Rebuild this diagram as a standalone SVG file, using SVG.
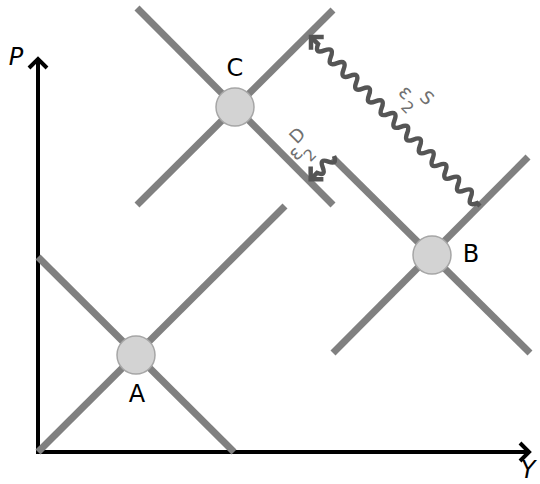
<svg xmlns="http://www.w3.org/2000/svg" width="540" height="484" viewBox="0 0 540 484">
<style>
.ln{stroke:#808080;stroke-width:7;fill:none}
.ax{stroke:#000;stroke-width:4;fill:none}
.wv{stroke:#555;stroke-width:4.5;fill:none;stroke-linejoin:miter}
.pt{fill:#d3d3d3;stroke:#a6a6a6;stroke-width:1.5}
.lb{font-family:"DejaVu Sans",sans-serif;font-size:24px;fill:#000;text-anchor:middle}
.ax-lb{font-family:"DejaVu Sans",sans-serif;font-style:italic;fill:#000;text-anchor:middle}
.el{font-family:"DejaVu Sans",sans-serif;fill:#707070;text-anchor:middle;dominant-baseline:central}
</style>
<rect width="540" height="484" fill="#fff"/>
<g id="axes">
<path class="ax" d="M38,452 L38,60 M29,68 L38,59 L47,68"/>
<path class="ax" d="M36,452 L528,452 M520,443 L529,452 L520,461"/>
<text class="ax-lb" x="16" y="65" font-size="24">P</text>
<text class="ax-lb" x="528" y="478" font-size="24">Y</text>
</g>
<g id="lines">
<line class="ln" x1="38" y1="452" x2="285" y2="206"/>
<line class="ln" x1="38" y1="257" x2="234" y2="452"/>
<line class="ln" x1="137" y1="8" x2="333" y2="205"/>
<line class="ln" x1="137" y1="205" x2="333" y2="10"/>
<line class="ln" x1="333" y1="158" x2="530" y2="353"/>
<line class="ln" x1="333" y1="353" x2="528" y2="157"/>
</g>
<g id="connectors">
<g transform="translate(480,206) rotate(-135)">
<path class="wv" d="M0,0 L4,0 q4.5,-10 9,0 t9,0 t9,0 t9,0 t9,0 t9,0 t9,0 t9,0 t9,0 t9,0 t9,0 t9,0 t9,0 t9,0 t9,0 t9,0 t9,0 t9,0 t9,0 t9,0 t9,0 t9,0 t9,0 t9,0 t9,0 L238,0"/>
<path class="wv" d="M230,-9 L239,0 L230,9"/>
</g>
<g transform="translate(334,156) rotate(135)">
<path class="wv" d="M0,0 q4,-9 8,0 t8,0 t8,0 L32,0"/>
<path class="wv" d="M24,-9 L33,0 L24,9"/>
</g>
</g>
<g id="node-A">
<circle class="pt" cx="136" cy="355" r="19"/>
<text class="lb" x="137" y="402">A</text>
</g>
<g id="node-B">
<circle class="pt" cx="432" cy="255" r="19"/>
<text class="lb" x="471" y="262">B</text>
</g>
<g id="node-C">
<circle class="pt" cx="235" cy="107" r="19"/>
<text class="lb" x="235" y="76">C</text>
</g>
<g id="label-S" transform="translate(406,92) rotate(45)">
<text class="el" x="0" y="0" font-size="20">ε</text>
<text class="el" x="12" y="10" font-size="16">2</text>
<text class="el" x="19" y="-11" font-size="18">S</text>
</g>
<g id="label-D" transform="translate(295,153) rotate(-45)">
<text class="el" x="0" y="0" font-size="20">ε</text>
<text class="el" x="9" y="12" font-size="16">2</text>
<text class="el" x="14" y="-11" font-size="18">D</text>
</g>
</svg>
